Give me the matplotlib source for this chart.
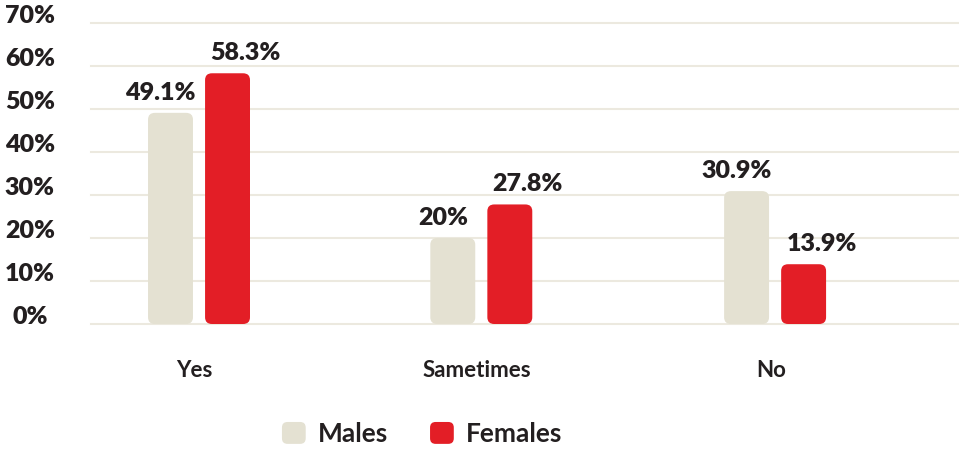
import matplotlib
matplotlib.use("Agg")
import matplotlib.pyplot as plt
import matplotlib.transforms as mtransforms
from matplotlib.patches import FancyBboxPatch, Patch
from matplotlib.legend_handler import HandlerPatch

# survey answers by gender (percent)
categories = ["Yes", "Sametimes", "No"]
males = [49.1, 20.0, 30.9]
females = [58.3, 27.8, 13.9]
male_labels = ["49.1%", "20%", "30.9%"]
female_labels = ["58.3%", "27.8%", "13.9%"]
y_ticks = [0, 10, 20, 30, 40, 50, 60, 70]

MALE_COL = "#E4E1D2"
FEMALE_COL = "#E31E26"
TEXT_COL = "#231F20"
GRID_COL = "#ECE9DF"

plt.rcParams["font.family"] = ["Lato", "DejaVu Sans"]

fig = plt.figure(figsize=(9.59, 4.5), dpi=100)
ax = fig.add_axes([91 / 959, 0.28, 867 / 959, 0.669])
ax.set_xlim(-0.375, 2.635)
ax.set_ylim(0, 70)
for s in ax.spines.values():
    s.set_visible(False)
ax.set_xticks([])
ax.set_yticks([])

for t in y_ticks:
    ax.axhline(t, color=GRID_COL, lw=1.5, zorder=0, clip_on=False)

x = [0, 0.98, 2]
w = 0.156
off = 0.099
bars_m = ax.bar([i - off for i in x], males, w, color=MALE_COL)
bars_f = ax.bar([i + off for i in x], females, w, color=FEMALE_COL)


def round_bars(bars, color):
    # swap plain rectangles for rounded boxes of the same geometry
    for b in bars:
        bx, by, bw, bh = b.get_x(), b.get_y(), b.get_width(), b.get_height()
        b.remove()
        p = FancyBboxPatch((bx, by), bw, bh,
                           boxstyle="round,pad=0,rounding_size=0.024",
                           mutation_aspect=65, fc=color, ec="none", zorder=2)
        ax.add_patch(p)


round_bars(bars_m, MALE_COL)
round_bars(bars_f, FEMALE_COL)

# value labels
for i, xi in enumerate(x):
    ax.annotate(male_labels[i], (xi - off, males[i]), xytext=(-10, 9),
                textcoords="offset pixels", ha="center", va="bottom",
                fontsize=18, fontweight="heavy", color=TEXT_COL)
    ax.annotate(female_labels[i], (xi + off, females[i]), xytext=(18, 9),
                textcoords="offset pixels", ha="center", va="bottom",
                fontsize=18, fontweight="heavy", color=TEXT_COL)

# y tick labels, centred in the left margin
ytr = ax.get_yaxis_transform() + mtransforms.ScaledTranslation(0, 7 / 100, fig.dpi_scale_trans)
for t in y_ticks:
    ax.text(-0.0704, t, f"{t}%", transform=ytr, ha="center", va="center",
            fontsize=18, fontweight="heavy", color=TEXT_COL)

# category labels
xtr = ax.get_xaxis_transform()
for i, c in enumerate(categories):
    ax.text(x[i] - 0.015, -0.153, c, transform=xtr, ha="center", va="center",
            fontsize=16, fontweight="bold", color=TEXT_COL)


class RoundHandler(HandlerPatch):
    def create_artists(self, legend, orig_handle, xdescent, ydescent,
                       width, height, fontsize, trans):
        p = FancyBboxPatch((-xdescent, -ydescent), width, height,
                           boxstyle="round,pad=0,rounding_size=4",
                           fc=orig_handle.get_facecolor(), ec="none",
                           transform=trans)
        return [p]


handles = [Patch(color=MALE_COL, label="Males"), Patch(color=FEMALE_COL, label="Females")]
leg = fig.legend(handles=handles, loc="center", bbox_to_anchor=(422 / 959, 1 - 434 / 450),
                 ncol=2, frameon=False, fontsize=19, handlelength=0.9, handleheight=0.9,
                 handletextpad=0.45, columnspacing=1.6,
                 handler_map={Patch: RoundHandler()})
for t in leg.get_texts():
    t.set_color(TEXT_COL)
    t.set_fontweight("bold")

fig.savefig("out.png", dpi=100)
